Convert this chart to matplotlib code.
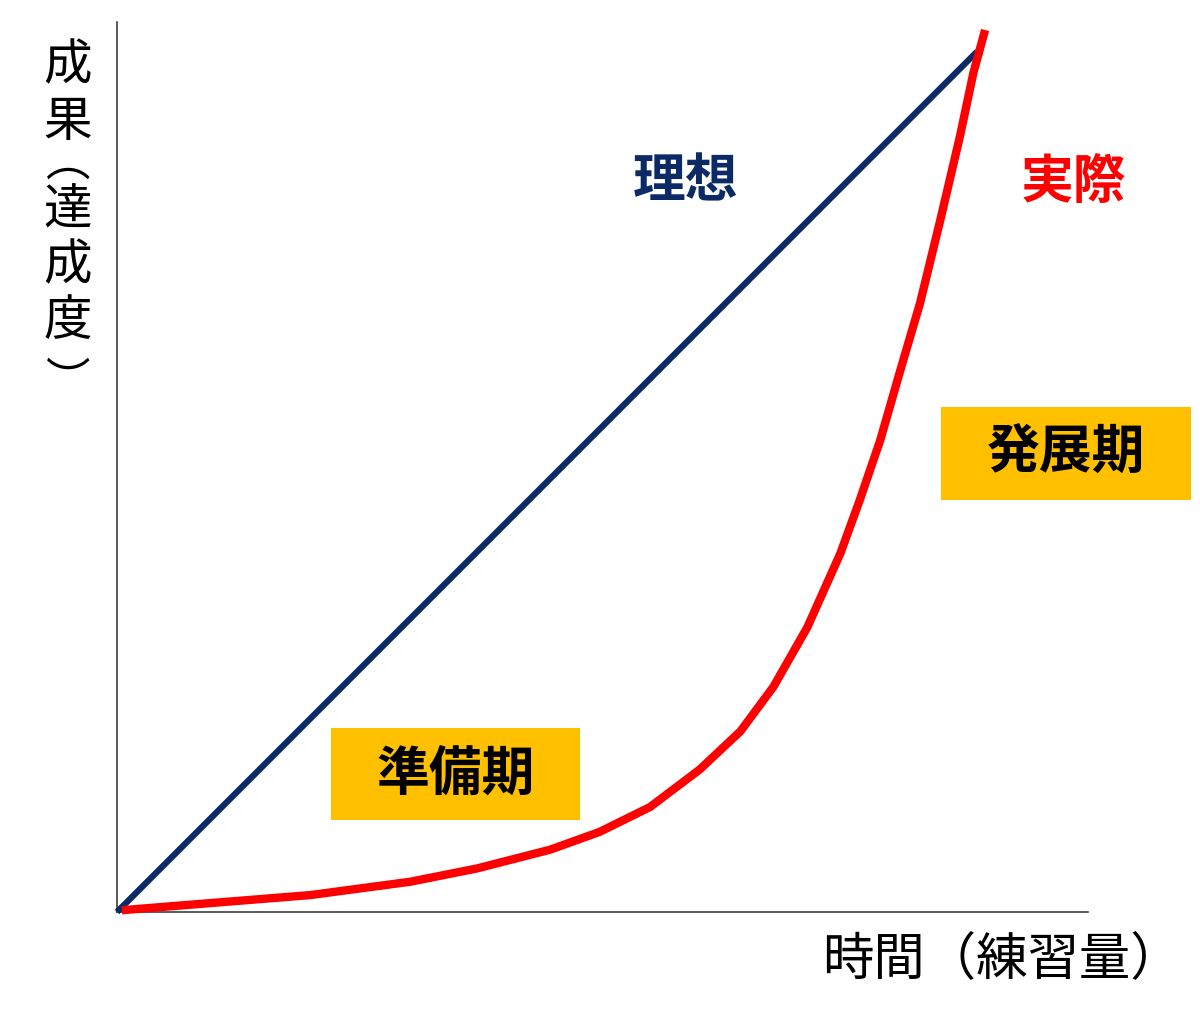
import matplotlib.pyplot as plt
from matplotlib.patches import Rectangle

plt.rcParams["font.family"] = ["Noto Sans CJK JP", "DejaVu Sans"]

# data in percent of axis range (time, achievement)
IDEAL_X = [0.0, 88.6]
IDEAL_Y = [0.0, 96.7]

ACTUAL_X = [0.5, 9.6, 19.9, 30.2, 37.1, 44.6, 49.7, 54.9, 60.0, 64.2,
            67.6, 71.1, 74.5, 76.5, 78.6, 80.6, 82.7, 84.8, 86.8, 88.2, 89.4]
ACTUAL_Y = [0.2, 1.0, 1.9, 3.4, 4.9, 7.0, 9.0, 11.8, 16.0, 20.3,
            25.3, 32.0, 40.3, 46.3, 53.0, 60.6, 68.4, 77.8, 87.1, 94.3, 99.1]

NAVY = "#0c2a66"
RED = "#ff0000"
GOLD = "#ffc000"

fig = plt.figure(figsize=(12, 10.25), dpi=100)
ax = fig.add_axes([117 / 1200, 113 / 1025, 971 / 1200, 890 / 1025])
ax.set_xlim(0, 100)
ax.set_ylim(0, 100)

ax.plot(IDEAL_X, IDEAL_Y, color=NAVY, linewidth=4.5, solid_capstyle="butt",
        clip_on=False, zorder=3)
ax.plot(ACTUAL_X, ACTUAL_Y, color=RED, linewidth=6, solid_capstyle="butt",
        solid_joinstyle="round", clip_on=False, zorder=4)

for side in ["top", "right"]:
    ax.spines[side].set_visible(False)
for side in ["left", "bottom"]:
    ax.spines[side].set_color("#404040")
    ax.spines[side].set_linewidth(1.2)
ax.set_xticks([])
ax.set_yticks([])

# curve labels
ax.text(58.5, 82.0, "理想", color=NAVY, fontsize=38, fontweight="bold",
        ha="center", va="center")
ax.text(98.5, 82.0, "実際", color=RED, fontsize=38, fontweight="bold",
        ha="center", va="center")

# phase boxes
ax.add_patch(Rectangle((84.9, 46.3), 25.7, 10.4, facecolor=GOLD,
                       edgecolor="none", clip_on=False, zorder=2))
ax.text(97.7, 51.5, "発展期", fontsize=38, fontweight="bold",
        ha="center", va="center", zorder=5, clip_on=False)
ax.add_patch(Rectangle((22.0, 10.3), 25.7, 10.4, facecolor=GOLD,
                       edgecolor="none", clip_on=False, zorder=2))
ax.text(34.85, 15.5, "準備期", fontsize=38, fontweight="bold",
        ha="center", va="center", zorder=5)

# vertical y-axis label, one glyph per line (vertical-form brackets)
y_chars = ["成", "果", "︵", "達", "成", "度", "︶"]
y_pix = [66, 122, 163, 211, 266, 321, 382]
for ch, py in zip(y_chars, y_pix):
    size = 32 if ch in "︵︶" else 35
    fig.text(68 / 1200, 1 - py / 1025, ch, fontsize=size,
             ha="center", va="center")

fig.text(1002 / 1200, 1 - 960 / 1025, "時間（練習量）", fontsize=37,
         ha="center", va="center")

fig.savefig("out.png", dpi=100)
